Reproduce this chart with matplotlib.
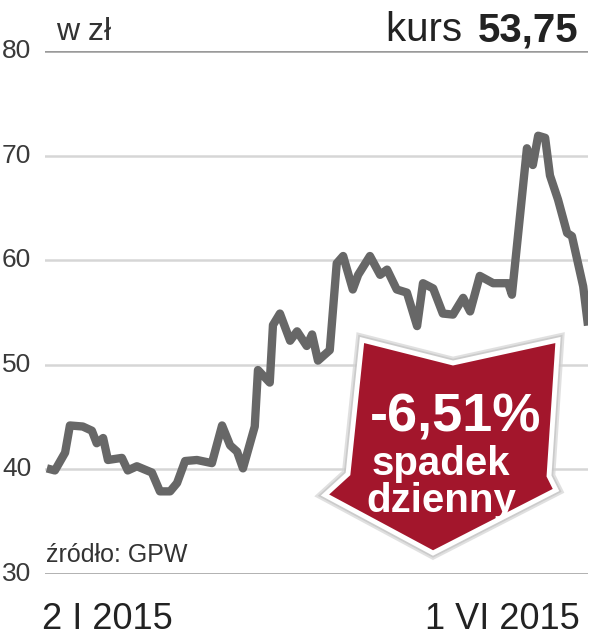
import matplotlib.pyplot as plt
import matplotlib.patheffects as pe
from matplotlib.patches import Polygon
from matplotlib.transforms import blended_transform_factory

# sesje od 2 I 2015 do 1 VI 2015
dzien = [0, 1.5, 3.4, 4.3, 6.7, 8.4, 9.3, 10.5, 11.4, 14.0, 15.1, 16.8, 19.6, 21.1,
         23.0, 24.3, 25.8, 28.0, 30.8, 32.7, 34.2, 35.5, 36.6, 38.8, 39.4, 41.6,
         42.2, 43.5, 45.4, 46.7, 48.5, 49.5, 50.6, 52.8, 54.1, 55.3, 57.1, 58.1,
         60.3, 62.2, 63.5, 65.3, 67.2, 69.1, 70.2, 72.1, 73.9, 75.8, 77.7, 79.0,
         80.8, 83.3, 86.1, 86.8, 89.6, 90.7, 91.7, 93.0, 93.9, 95.4, 97.1, 98.0,
         100.1, 101]
kurs = [40.1, 39.9, 41.6, 44.2, 44.1, 43.7, 42.5, 43.0, 40.9, 41.1, 39.9, 40.3,
        39.7, 37.9, 37.9, 38.7, 40.8, 40.9, 40.6, 44.2, 42.3, 41.7, 40.1, 44.1,
        49.5, 48.3, 53.8, 54.9, 52.3, 53.2, 51.8, 52.9, 50.4, 51.4, 59.7, 60.4,
        57.2, 58.6, 60.4, 58.6, 59.1, 57.2, 56.9, 53.7, 57.8, 57.3, 54.9, 54.8,
        56.4, 55.1, 58.5, 57.8, 57.8, 56.7, 70.7, 69.1, 71.9, 71.7, 68.1, 65.8,
        62.6, 62.3, 57.5, 53.75]
y_ticks = [30, 40, 50, 60, 70, 80]
x_labels = ["2 I 2015", "1 VI 2015"]

W, H = 590, 640
fig = plt.figure(figsize=(W / 100, H / 100), dpi=100)
ax = fig.add_axes([45 / W, 1 - 574 / H, (588 - 45) / W, (574 - 51) / H])
ax.set_xlim(-0.35, 101)
ax.set_ylim(30, 80)
ax.axis("off")

font = ["Liberation Sans", "DejaVu Sans"]

for v in y_ticks:
    col = "#9a9a9a" if v in (30, 80) else "#d6d6d6"
    ax.axhline(v, color=col, lw=1.8, zorder=1)
    ax.text(-43 / 543, v, str(v), transform=blended_transform_factory(ax.transAxes, ax.transData),
            ha="left", va="center", fontsize=19, color="#3a3a3a", family=font)

ax.plot(dzien, kurs, color="#676767", lw=6, solid_joinstyle="round",
        solid_capstyle="butt", zorder=3)

# strzalka
def px(x, y):
    return (x / W, 1 - y / H)

pts = [(362, 340), (453, 363), (558, 340), (549, 476), (556, 490), (433, 553),
       (325, 495), (348, 474)]
arrow = Polygon([px(*p) for p in pts], closed=True, transform=fig.transFigure,
                facecolor="#a3162c", edgecolor="white", lw=3.5, zorder=5,
                joinstyle="miter")
arrow.set_path_effects([pe.Stroke(linewidth=9, foreground="#d4d4d4", alpha=0.7),
                        pe.Stroke(linewidth=6, foreground="#bdbdbd", alpha=0.6),
                        pe.Normal()])
fig.patches.append(arrow)

fig.text(456 / W, 1 - 432 / H, "-6,51%", ha="center", va="baseline", color="white",
         fontsize=39, fontweight="bold", family=font, zorder=6)
fig.text(441 / W, 1 - 475 / H, "spadek", ha="center", va="baseline", color="white",
         fontsize=29, fontweight="bold", family=font, zorder=6)
fig.text(441 / W, 1 - 512 / H, "dzienny", ha="center", va="baseline", color="white",
         fontsize=29, fontweight="bold", family=font, zorder=6)

# napisy
fig.text(56 / W, 1 - 40 / H, "w zł", ha="left", va="baseline", fontsize=23,
         color="#333333", family=font)
fig.text(578 / W, 1 - 41 / H, "kurs ", ha="right", va="baseline", fontsize=29,
         color="#222222", family=font)
t = fig.text(578 / W, 1 - 41 / H, "53,75", ha="right", va="baseline", fontsize=29,
             fontweight="bold", color="#222222", family=font)
fig.canvas.draw()
bb = t.get_window_extent()
fig.texts[-2].set_position(((bb.x0 - 4) / W, 1 - 41 / H))

fig.text(46 / W, 1 - 562 / H, "źródło: GPW", ha="left", va="baseline", fontsize=18,
         color="#333333", family=font)
fig.text(42 / W, 1 - 629 / H, x_labels[0], ha="left", va="baseline", fontsize=26,
         color="#222222", family=font)
fig.text(580 / W, 1 - 629 / H, x_labels[1], ha="right", va="baseline", fontsize=26,
         color="#222222", family=font)

fig.savefig("out.png", dpi=100, facecolor="white")
